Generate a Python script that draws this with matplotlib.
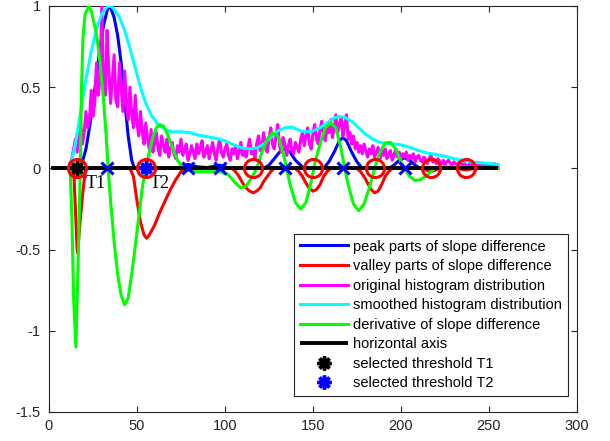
import matplotlib
import numpy as np

matplotlib.use("Agg")
import matplotlib.pyplot as plt

plt.rcParams["font.family"] = ["Liberation Sans", "DejaVu Sans"]

# original histogram (gray levels 12..255)
HIST_Y = [
    0.03, 0.06, 0.12, 0.18, 0.1, 0.2, 0.28, 0.15, 0.22, 0.35,
    0.25, 0.3, 0.48, 0.32, 0.4, 0.65, 0.45, 0.55, 1.0, 0.5,
    0.45, 0.85, 0.6, 0.4, 0.55, 0.7, 0.42, 0.38, 0.65, 0.5,
    0.35, 0.6, 0.4, 0.3, 0.5, 0.33, 0.25, 0.45, 0.28, 0.2,
    0.35, 0.22, 0.15, 0.28, 0.18, 0.12, 0.24, 0.1, 0.15, 0.22,
    0.12, 0.08, 0.2, 0.14, 0.1, 0.18, 0.07, 0.12, 0.16, 0.09,
    0.06, 0.14, 0.1, 0.18, 0.08, 0.11, 0.15, 0.05, 0.09, 0.14,
    0.1, 0.06, 0.15, 0.09, 0.12, 0.17, 0.07, 0.1, 0.14, 0.06,
    0.11, 0.16, 0.09, 0.05, 0.13, 0.18, 0.1, 0.07, 0.12, 0.15,
    0.08, 0.05, 0.12, 0.09, 0.14, 0.06, 0.1, 0.16, 0.08, 0.11,
    0.07, 0.13, 0.18, 0.09, 0.12, 0.06, 0.15, 0.2, 0.11, 0.14,
    0.22, 0.13, 0.1, 0.18, 0.25, 0.15, 0.12, 0.2, 0.27, 0.14,
    0.1, 0.19, 0.15, 0.08, 0.14, 0.18, 0.11, 0.09, 0.16, 0.13,
    0.1, 0.18, 0.22, 0.14, 0.2, 0.25, 0.15, 0.12, 0.22, 0.27,
    0.18, 0.15, 0.24, 0.29, 0.2, 0.17, 0.26, 0.22, 0.3, 0.19,
    0.24, 0.33, 0.22, 0.27, 0.31, 0.2, 0.26, 0.33, 0.18, 0.22,
    0.15, 0.2, 0.12, 0.16, 0.1, 0.14, 0.09, 0.15, 0.11, 0.07,
    0.12, 0.09, 0.14, 0.07, 0.1, 0.13, 0.06, 0.11, 0.08, 0.12,
    0.06, 0.09, 0.11, 0.05, 0.08, 0.12, 0.07, 0.1, 0.05, 0.09,
    0.07, 0.1, 0.05, 0.08, 0.06, 0.09, 0.04, 0.07, 0.08, 0.05,
    0.04, 0.07, 0.05, 0.03, 0.06, 0.08, 0.04, 0.05, 0.03, 0.06,
    0.04, 0.03, 0.05, 0.02, 0.04, 0.05, 0.03, 0.02, 0.04, 0.03,
    0.02, 0.04, 0.03, 0.02, 0.03, 0.02, 0.01, 0.03, 0.02, 0.03,
    0.01, 0.02, 0.03, 0.02, 0.01, 0.02, 0.03, 0.02, 0.01, 0.02,
    0.02, 0.03, 0.02, 0.02,
]
HIST_X = np.arange(12, 12 + len(HIST_Y))

# smoothed histogram
SMOOTH_X = [12, 15, 18, 21, 24, 27, 30, 33, 35, 37, 40, 43, 46, 49, 52, 55, 58,
            62, 66, 70, 75, 80, 85, 90, 95, 100, 105, 110, 114, 118, 122, 126,
            130, 134, 138, 142, 146, 150, 154, 158, 162, 165, 168, 172, 176,
            180, 184, 188, 192, 196, 200, 205, 210, 215, 220, 225, 230, 235,
            240, 245, 250, 255]
SMOOTH_Y = [0.0, 0.15, 0.35, 0.55, 0.72, 0.86, 0.95, 0.995, 1.0, 0.98, 0.93,
            0.85, 0.74, 0.62, 0.5, 0.4, 0.33, 0.27, 0.24, 0.225, 0.225, 0.22,
            0.205, 0.195, 0.185, 0.17, 0.145, 0.125, 0.12, 0.125, 0.15, 0.19,
            0.23, 0.25, 0.255, 0.235, 0.225, 0.23, 0.25, 0.28, 0.31, 0.32,
            0.315, 0.29, 0.25, 0.21, 0.18, 0.16, 0.155, 0.15, 0.145, 0.13,
            0.11, 0.095, 0.085, 0.075, 0.06, 0.05, 0.04, 0.035, 0.03, 0.025]

# peak parts of slope difference
PEAK_X = [12, 17, 19, 21, 23, 25, 27, 29, 31, 33, 34, 35, 37, 39, 41, 43, 45,
          47, 48.5, 74, 79, 84, 90, 97, 103,
          122, 125, 128, 131, 134, 137, 140, 143, 145,
          156, 159, 162, 165, 167, 169, 172, 175, 178,
          193, 196, 199, 202, 205, 208, 211, 255]
PEAK_Y = [0, 0, 0.04, 0.12, 0.25, 0.4, 0.57, 0.74, 0.88, 0.97, 1.0, 0.99,
          0.93, 0.82, 0.65, 0.42, 0.2, 0.05, 0, 0, 0.025, 0.01, 0.005, 0.02, 0,
          0, 0.02, 0.06, 0.1, 0.12, 0.1, 0.05, 0.02, 0,
          0, 0.04, 0.1, 0.17, 0.19, 0.17, 0.1, 0.04, 0,
          0, 0.02, 0.05, 0.065, 0.05, 0.02, 0, 0]

# valley parts of slope difference
VALLEY_X = [12, 14, 15, 16, 16.3, 17.5, 19, 20.8,
            46, 48, 50, 52, 54, 55.5, 57, 60, 63, 66, 69, 72, 75, 78,
            104, 106, 108, 110, 112, 114, 116, 118, 120, 122, 124, 126, 128,
            140, 142, 144, 146, 148, 150, 152, 154, 156, 158, 160,
            175, 177, 179, 181, 183, 185, 187, 189, 191, 193, 195,
            212, 217, 222, 232, 237, 242, 255]
VALLEY_Y = [0, 0, -0.25, -0.5, -0.52, -0.35, -0.17, 0,
            0, -0.05, -0.2, -0.33, -0.41, -0.43, -0.41, -0.35, -0.27, -0.2,
            -0.13, -0.07, -0.02, 0,
            0, -0.02, -0.05, -0.09, -0.12, -0.14, -0.15, -0.14, -0.12, -0.08,
            -0.05, -0.02, 0,
            0, -0.02, -0.05, -0.09, -0.125, -0.14, -0.13, -0.1, -0.05, -0.02, 0,
            0, -0.02, -0.05, -0.09, -0.13, -0.15, -0.14, -0.1, -0.05, -0.02, 0,
            0, -0.02, 0, 0, -0.01, 0, 0]

# derivative of slope difference
DERIV_X = [12, 13, 14, 15.3, 16.5, 17.8, 18.5, 19.3, 20.5, 22.7,
           24, 25.5, 27, 29, 31, 32.5, 33.6, 35, 37, 39,
           41, 43, 45, 47, 49, 51, 53, 55, 57, 59,
           61, 63, 65, 67, 69, 71, 73, 75, 78, 82,
           90, 97, 102, 106, 109, 112, 115, 118, 121, 124,
           127, 130, 133, 135, 137, 140, 143, 146, 149, 151,
           154, 157, 160, 163, 166, 168, 170, 173, 176, 179,
           182, 185, 188, 191, 194, 197, 200, 202, 205, 208,
           211, 215, 219, 225, 235, 245, 255]
DERIV_Y = [0, -0.3, -0.8, -1.1, -0.6, 0.0, 0.5, 0.8, 0.95, 1.0,
           0.97, 0.9, 0.83, 0.65, 0.42, 0.2, 0.0, -0.2, -0.45, -0.65,
           -0.78, -0.84, -0.8, -0.65, -0.48, -0.3, -0.12, 0.0, 0.1, 0.19,
           0.25, 0.27, 0.26, 0.22, 0.16, 0.1, 0.05, 0.02, -0.01, -0.02,
           -0.02, -0.02, -0.04, -0.09, -0.12, -0.11, -0.06, 0.0, 0.1, 0.18,
           0.22, 0.2, 0.1, 0.0, -0.1, -0.21, -0.25, -0.21, -0.08, 0.03,
           0.15, 0.25, 0.28, 0.25, 0.12, 0.0, -0.1, -0.22, -0.26, -0.22,
           -0.12, 0.0, 0.1, 0.155, 0.16, 0.12, 0.04, 0.0, -0.05, -0.075,
           -0.07, -0.04, 0.0, 0.01, 0.005, 0.0, 0.0]

AXIS_X = [1, 255]
VALLEY_POS = [16, 55, 116, 150, 185, 217, 237]
PEAK_POS = [33, 79, 97, 134, 167, 202]
T1 = 16
T2 = 55

LW = 2.2

fig = plt.figure(figsize=(6.1, 4.41), dpi=100)
ax = fig.add_axes([0.0803, 0.0658, 0.8656, 0.9206])

ax.plot(PEAK_X, PEAK_Y, color="#0000ff", lw=LW, zorder=2,
        label="peak parts of slope difference")
ax.plot(HIST_X, HIST_Y, color="#ff00ff", lw=LW, zorder=3,
        label="original histogram distribution")
ax.plot(SMOOTH_X, SMOOTH_Y, color="#00ffff", lw=LW, zorder=3.5,
        label="smoothed histogram distribution")
ax.plot(VALLEY_X, VALLEY_Y, color="#ff0000", lw=LW, zorder=4,
        label="valley parts of slope difference")
ax.plot(DERIV_X, DERIV_Y, color="#00ff00", lw=LW, zorder=5,
        label="derivative of slope difference")
ax.plot(AXIS_X, [0, 0], color="black", lw=2.8, solid_capstyle="butt",
        zorder=6, label="horizontal axis")

ax.plot(PEAK_POS, np.zeros(len(PEAK_POS)), linestyle="none", marker="x",
        color="#0000ff", ms=8.5, mew=2.2, zorder=7)
ax.plot([T1], [0], linestyle="none", marker=(8, 2, 0), color="black",
        ms=10, mew=2.5, zorder=8, label="selected threshold T1")
ax.plot([T2], [0], linestyle="none", marker=(8, 2, 0), color="#0000ff",
        ms=10, mew=2.5, zorder=8, label="selected threshold T2")
ax.plot(VALLEY_POS, np.zeros(len(VALLEY_POS)), linestyle="none", marker="o",
        mfc="none", mec="#ff0000", ms=13, mew=2.2, zorder=9)

ax.text(T1 + 5, -0.095, "T1", family="Liberation Serif", fontsize=13,
        va="center", ha="left")
ax.text(T2 + 2, -0.095, "T2", family="Liberation Serif", fontsize=13,
        va="center", ha="left")

ax.set_xlim(0, 300)
ax.set_ylim(-1.5, 1)
ax.set_xticks([0, 50, 100, 150, 200, 250, 300])
ax.set_yticks([-1.5, -1, -0.5, 0, 0.5, 1])
ax.set_yticklabels(["-1.5", "-1", "-0.5", "0", "0.5", "1"])
ax.tick_params(direction="in", top=True, right=True, length=4, width=0.8,
               color="0.15", labelcolor="0.15", labelsize=10.5)
ax.tick_params(axis="y", pad=6)
ax.tick_params(axis="x", pad=5)
for spine in ax.spines.values():
    spine.set_color("0.15")
    spine.set_linewidth(0.8)

handles, labels = ax.get_legend_handles_labels()
order = [
    "peak parts of slope difference",
    "valley parts of slope difference",
    "original histogram distribution",
    "smoothed histogram distribution",
    "derivative of slope difference",
    "horizontal axis",
    "selected threshold T1",
    "selected threshold T2",
]
lookup = dict(zip(labels, handles))
leg = ax.legend([lookup[name] for name in order], order, loc="lower right",
                bbox_to_anchor=(0.983, 0.039), borderaxespad=0, fontsize=10.5,
                fancybox=False, edgecolor="0.15", framealpha=1,
                handlelength=3.3, handletextpad=0.35, labelspacing=0.38,
                borderpad=0.4)
leg.get_frame().set_linewidth(0.8)

fig.savefig("out.png", dpi=100)
plt.close(fig)
